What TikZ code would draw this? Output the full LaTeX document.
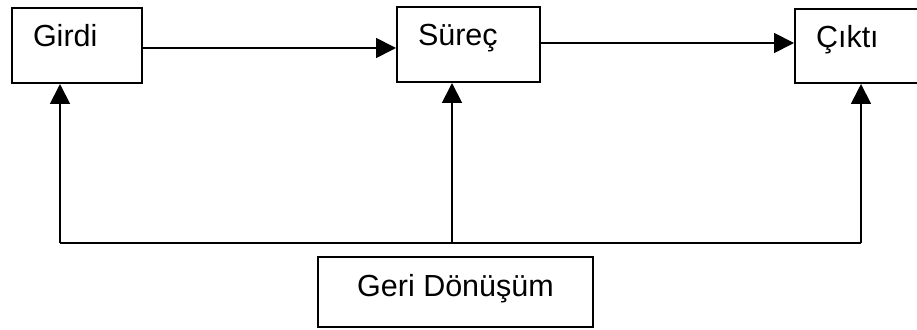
\documentclass[tikz,border=0pt]{standalone}
\usepackage{fontspec}
\setmainfont{Liberation Sans}
\usetikzlibrary{arrows.meta}
\begin{document}
\begin{tikzpicture}[x=1pt,y=1pt,
  stagebox/.style={draw, line width=2pt, inner xsep=21pt, inner ysep=0pt,
    align=left, text height=21pt, text depth=18pt,
    font=\fontsize{30.5}{35}\selectfont},
  recyclebox/.style={draw, line width=2pt, inner sep=0pt,
    text height=22pt, text depth=12pt,
    font=\fontsize{30.5}{35}\selectfont},
  flow/.style={line width=1.8pt, -{Triangle[length=20pt,width=20pt]}},
  bus/.style={line width=1.8pt}]
\useasboundingbox (0,0) rectangle (917,329);

% process stages
\node[stagebox, minimum width=130pt, minimum height=75pt, text width=88pt] (girdi) at (77,283.5) {Girdi};
\node[stagebox, minimum width=143pt, minimum height=75pt, text width=101pt] (surec) at (468.5,284.5) {Süreç};
\node[stagebox, minimum width=143pt, minimum height=74pt, text width=101pt] (cikti) at (866.5,283) {Çıktı};

% recycling box
\node[recyclebox, minimum width=275pt, minimum height=70pt] (geri) at (455.5,37) {Geri Dönüşüm};

% forward flow
\draw[flow] ([yshift=-2.5pt]girdi.east) -- ([yshift=-2.5pt]girdi.east -| surec.west);
\draw[flow] ([yshift=1.5pt]surec.east) -- ([yshift=1.5pt]surec.east -| cikti.west);

% feedback bus
\coordinate (busL) at (60,86);
\coordinate (busM) at (452,86);
\coordinate (busR) at (861,86);
\draw[bus] (busL) -- (busR);
\draw[flow] (busL) -- (busL |- girdi.south);
\draw[flow] (busM) -- (busM |- surec.south);
\draw[flow] (busR) -- (busR |- cikti.south);
\end{tikzpicture}
\end{document}
